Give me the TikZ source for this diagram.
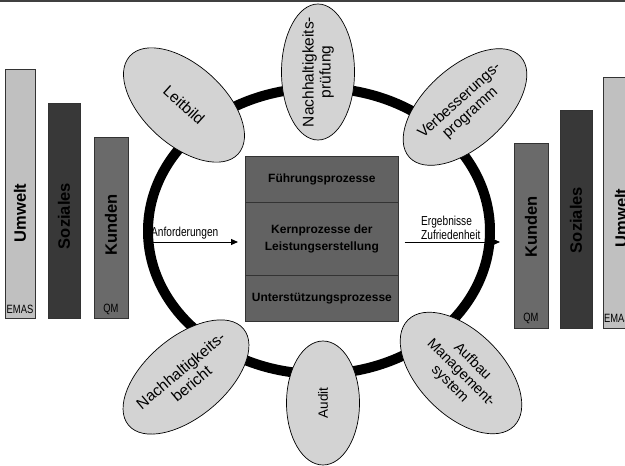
\documentclass[tikz,border=0pt]{standalone}
\usepackage{fontspec}
\setmainfont{Liberation Sans}
\newfontfamily\narrowfont[FakeStretch=0.78]{Liberation Sans}
\usetikzlibrary{shapes.geometric,arrows.meta}
\definecolor{ellgray}{RGB}{211,211,211}
\definecolor{umweltgray}{RGB}{192,192,192}
\definecolor{sozgray}{RGB}{56,56,56}
\definecolor{kundgray}{RGB}{106,106,106}
\definecolor{boxgray}{RGB}{98,98,98}
\definecolor{topline}{RGB}{64,64,64}
\tikzset{
  bubble/.style={ellipse, draw=black, line width=0.7pt, fill=ellgray, inner sep=0pt},
  bubbletext/.style={align=center, inner sep=0pt},
  bar/.style={draw=black!80, line width=0.7pt, inner sep=0pt, anchor=north west},
  bartext/.style={rotate=90, inner sep=0pt, font=\bfseries\fontsize{16.5}{18}\selectfont},
  smalltext/.style={inner sep=0pt, font=\narrowfont\fontsize{12}{13}\selectfont},
  procbox/.style={draw=black!80, line width=0.7pt, fill=boxgray, inner sep=0pt, anchor=north west,
    minimum width=153pt, align=center, font=\bfseries\fontsize{12}{17}\selectfont},
  flow/.style={line width=1pt, -{Triangle[length=7pt,width=6pt]}},
  flowlabel/.style={inner sep=0pt, font=\narrowfont\fontsize{13}{14}\selectfont},
}
\begin{document}
\begin{tikzpicture}[x=1pt,y=-1pt]
\useasboundingbox (0,0) rectangle (625,466);
\clip (0,0) rectangle (625,466);
% top rule
\draw[topline, line width=2pt] (0,1) -- (625,1);

% left bars
\node[bar, fill=umweltgray, minimum width=30pt, minimum height=249pt] (lum) at (5,69) {};
\node[bar, fill=sozgray, minimum width=32pt, minimum height=215pt] (lsoz) at (48,103) {};
\node[bar, fill=kundgray, minimum width=34pt, minimum height=181pt] (lkun) at (94,137) {};
\node[bartext] (lumt) at (20,213) {Umwelt};
\node[bartext] (lsozt) at (64,216) {Soziales};
\node[bartext] (lkunt) at (111,225) {Kunden};
\node[smalltext] (lemas) at (20,309) {EMAS};
\node[smalltext] (lqm) at (111,309) {QM};

% right bars
\node[bar, fill=kundgray, minimum width=34pt, minimum height=185pt] (rkun) at (514,143) {};
\node[bar, fill=sozgray, minimum width=32pt, minimum height=218pt] (rsoz) at (560,110) {};
\node[bar, fill=umweltgray, minimum width=34pt, minimum height=251pt] (rum) at (603,77) {};
\node[bartext] (rkunt) at (531,227) {Kunden};
\node[bartext] (rsozt) at (576,220) {Soziales};
\node[bartext] (rumt) at (621,218) {Umwelt};
\node[smalltext] (rqm) at (531,318) {QM};
\node[smalltext, anchor=west] (remas) at (604,318) {EMAS};

% ring
\node[ellipse, draw=black, line width=10pt, minimum width=342pt, minimum height=286pt, inner sep=0pt] (ring) at (319,231) {};

% process box
\node[procbox, minimum height=46pt] (fuehr) at (245,156) {Führungsprozesse};
\node[procbox, minimum height=73pt] (kern) at (245,202) {Kernprozesse der\\Leistungserstellung};
\node[procbox, minimum height=46pt] (unter) at (245,275) {Unterstützungsprozesse};

% arrows
\coordinate (ain) at (150,242);
\coordinate (aout) at (500,242);
\draw[flow, shorten >=7pt] (ain) -- (ain -| kern.west);
\draw[flow, shorten <=6pt] (kern.east |- aout) -- (aout);
\node[flowlabel, anchor=south west] (lanf) at (151,239) {Anforderungen};
\node[flowlabel, anchor=south west, align=left] (lerg) at (421,240) {Ergebnisse\\Zufriedenheit};

% bubbles
\node[bubble, rotate=-42, minimum width=146pt, minimum height=80pt] (b1) at (184,105) {};
\node[bubbletext, rotate=-42, font=\fontsize{15.5}{17}\selectfont] (b1t) at (b1) {Leitbild};

\node[bubble, rotate=90, minimum width=136pt, minimum height=73pt] (b2) at (318,72) {};
\node[bubbletext, rotate=90, font=\fontsize{15.5}{17}\selectfont] (b2t) at (b2) {Nachhaltigkeits-\\prüfung};

\node[bubble, rotate=42, minimum width=150pt, minimum height=80pt] (b3) at (465,107) {};
\node[bubbletext, rotate=42, font=\fontsize{15}{16.5}\selectfont] (b3t) at (b3) {Verbesserungs-\\programm};

\node[bubble, rotate=40, minimum width=150pt, minimum height=80pt] (b4) at (186,377) {};
\node[bubbletext, rotate=40, font=\fontsize{15.5}{17}\selectfont] (b4t) at (b4) {Nachhaltigkeits-\\bericht};

\node[bubble, rotate=90, minimum width=124pt, minimum height=73pt] (b5) at (323,403) {};
\node[bubbletext, rotate=90, font=\fontsize{13.5}{15}\selectfont] (b5t) at (b5) {Audit};

\node[bubble, rotate=-45, minimum width=150pt, minimum height=84pt] (b6) at (461,373) {};
\node[bubbletext, rotate=-45, font=\fontsize{14.5}{16}\selectfont] (b6t) at (b6) {Aufbau\\Management-\\system};
\end{tikzpicture}
\end{document}
